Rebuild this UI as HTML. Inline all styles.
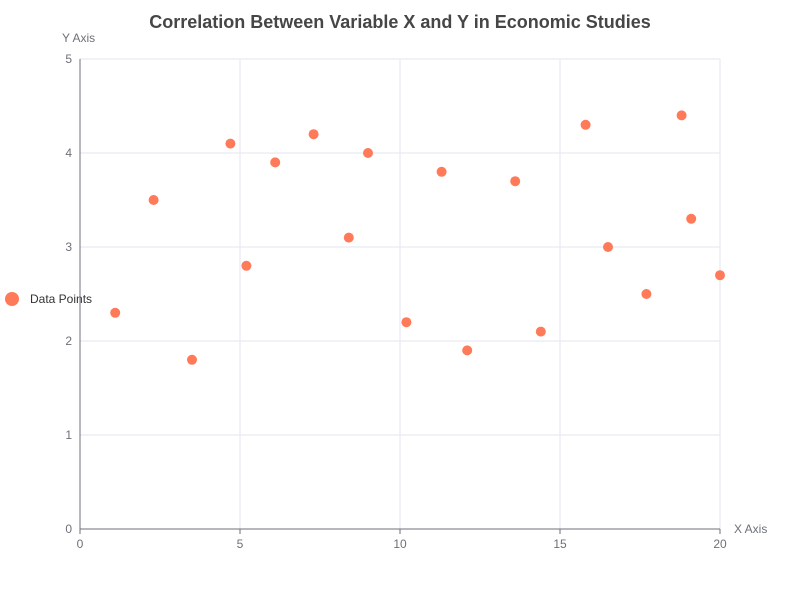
<!DOCTYPE html>
<html><head><meta charset="utf-8"><style>
body{margin:0;background:#fff;font-family:"Liberation Sans",sans-serif}
svg{display:block}
</style></head><body>
<svg id="chart" width="800" height="600">
<text x="400" y="28" text-anchor="middle" font-size="18" font-weight="bold" fill="#464646">Correlation Between Variable X and Y in Economic Studies</text>
<text x="62" y="42" font-size="12" fill="#6e7079">Y Axis</text>
<text x="734" y="533" font-size="12" fill="#6e7079">X Axis</text>
<g><circle cx="12" cy="299" r="7" fill="#ff7a59"/><text x="30" y="303" font-size="12" fill="#333">Data Points</text></g>
<g id="grid"></g><g id="axes"></g><g id="points"></g>
</svg>
<script>
const xValues=[1.1,2.3,3.5,4.7,5.2,6.1,7.3,8.4,9.0,10.2,11.3,12.1,13.6,14.4,15.8,16.5,17.7,18.8,19.1,20];
const yValues=[2.3,3.5,1.8,4.1,2.8,3.9,4.2,3.1,4.0,2.2,3.8,1.9,3.7,2.1,4.3,3.0,2.5,4.4,3.3,2.7];
const xTicks=[0,5,10,15,20];
const yTicks=[0,1,2,3,4,5];
const NS="http://www.w3.org/2000/svg";
const x=v=>80+v*32, y=v=>529-v*94;
function mk(tag,attrs,parent,txt){const e=document.createElementNS(NS,tag);for(const k in attrs)e.setAttribute(k,attrs[k]);if(txt!==undefined)e.textContent=txt;document.getElementById(parent).appendChild(e);return e;}
xTicks.forEach(t=>{
 if(t>0){const g=mk('line',{x1:x(t),x2:x(t),y1:59,y2:529,stroke:'#e0e6f1'},'grid');
 
 }
 const tk=mk('line',{x1:x(t),x2:x(t),y1:529,y2:534,stroke:'#6e7079'},'axes');
 
 
 const l=mk('text',{x:x(t),y:548,'text-anchor':'middle','font-size':12,fill:'#6e7079'},'axes',t);
 
 
});
yTicks.forEach(t=>{
 if(t>0){const g=mk('line',{x1:80,x2:720,y1:y(t),y2:y(t),stroke:'#e0e6f1'},'grid');
 
 }
 const l=mk('text',{x:72,y:y(t)+4,'text-anchor':'end','font-size':12,fill:'#6e7079'},'axes',t);
 
 
});
const xa=mk('line',{x1:80,x2:720,y1:529,y2:529,stroke:'#6e7079'},'axes');


const ya=mk('line',{x1:80,x2:80,y1:59,y2:529,stroke:'#6e7079'},'axes');


xValues.forEach((v,i)=>{
 const c=mk('circle',{cx:x(v),cy:y(yValues[i]),r:5,fill:'#ff7a59'},'points');
 
 
});
</script>
</body></html>
